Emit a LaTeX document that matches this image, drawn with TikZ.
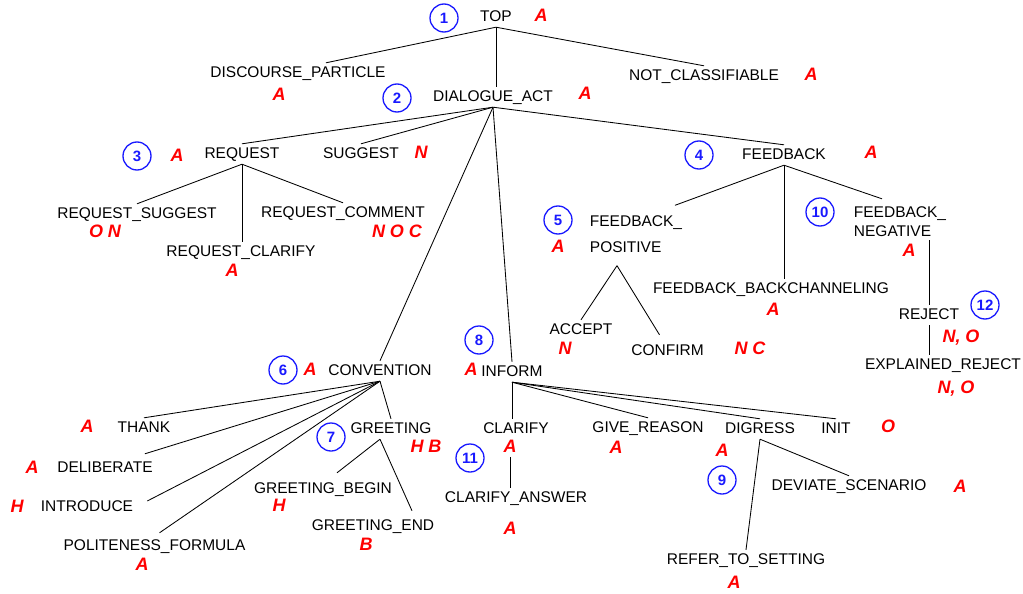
\documentclass[tikz,border=0pt]{standalone}
\usepackage{fontspec}
\setmainfont{Liberation Sans}
\usepackage{xcolor}
\usepackage{tikz}
\definecolor{tagred}{RGB}{255,0,0}
\definecolor{numblue}{RGB}{25,25,255}
\tikzset{
  cat/.style={font=\fontsize{15.5}{18}\selectfont,text=black,inner sep=3pt,
    text height=11.5pt,text depth=2.5pt},
  cattwo/.style={font=\fontsize{15.5}{18}\selectfont,text=black,inner sep=3pt,align=left},
  tag/.style={font=\fontsize{18}{21}\selectfont\bfseries\itshape,text=tagred,inner sep=2pt,
    text height=13pt,text depth=2.5pt},
  num/.style={circle,draw=numblue,line width=1.3pt,text=numblue,minimum size=28pt,
    inner sep=0pt,font=\fontsize{15}{17}\selectfont\bfseries},
  branch/.style={line width=0.85pt,black}
}

\begin{document}
\begin{tikzpicture}[x=1pt,y=-1pt]
  \useasboundingbox (0,0) rectangle (1023,594);
  % upper levels
  \node[cat] (top) at (496,17) {TOP};
  \node[tag] (topA) at (541,16) {A};
  \node[num] (n1) at (444,18) {1};
  \node[cat] (dp) at (298,73) {DISCOURSE\_PARTICLE};
  \node[tag] (dpA) at (279,95) {A};
  \node[cat] (nc) at (704,76) {NOT\_CLASSIFIABLE};
  \node[tag] (ncA) at (811,75) {A};
  \node[cat] (da) at (493,97) {DIALOGUE\_ACT};
  \node[tag] (daA) at (585,94) {A};
  \node[num] (n2) at (397,98) {2};
  \node[cat] (req) at (242,154) {REQUEST};
  \node[tag] (reqA) at (177,156) {A};
  \node[num] (n3) at (137,156) {3};
  \node[cat] (sug) at (361,154) {SUGGEST};
  \node[tag] (sugA) at (421,153) {N};
  \node[cat] (fb) at (784,155) {FEEDBACK};
  \node[tag] (fbA) at (871,153) {A};
  \node[num] (n4) at (699,155) {4};
  % request
  \node[cat] (rs) at (137,214) {REQUEST\_SUGGEST};
  \node[tag] (rsA) at (105,232) {O N};
  \node[cat] (rcl) at (241,252) {REQUEST\_CLARIFY};
  \node[tag] (rclA) at (232,271) {A};
  \node[cat] (rco) at (343,213) {REQUEST\_COMMENT};
  \node[tag] (rcoA) at (397,232) {N O C};
  % feedback
  \node[cattwo] (fbp) at (636,234) {FEEDBACK\_\\[8pt]POSITIVE};
  \node[tag] (fbpA) at (558,247) {A};
  \node[num] (n5) at (558,220) {5};
  \node[cat] (acc) at (581,330) {ACCEPT};
  \node[tag] (accA) at (565,349) {N};
  \node[cat] (cnf) at (667.5,351) {CONFIRM};
  \node[tag] (cnfA) at (750,349) {N C};
  \node[cat] (fbb) at (771,289) {FEEDBACK\_BACKCHANNELING};
  \node[tag] (fbbA) at (773,310) {A};
  \node[cattwo] (fbn) at (900,222) {FEEDBACK\_\\[1pt]NEGATIVE};
  \node[tag] (fbnA) at (909,251) {A};
  \node[num] (n10) at (820,212) {10};
  \node[cat] (rej) at (929,315) {REJECT};
  \node[tag] (rejA) at (961,337) {N, O};
  \node[num] (n12) at (985,305) {12};
  \node[cat] (er) at (943,365) {EXPLAINED\_REJECT};
  \node[tag] (erA) at (956,388) {N, O};
  % convention
  \node[cat] (conv) at (380,371) {CONVENTION};
  \node[tag] (convA) at (310,370) {A};
  \node[num] (n6) at (283,370) {6};
  \node[cat] (thk) at (144,428) {THANK};
  \node[tag] (thkA) at (87,427) {A};
  \node[cat] (del) at (105,468) {DELIBERATE};
  \node[tag] (delA) at (32,468) {A};
  \node[cat] (intro) at (87,507) {INTRODUCE};
  \node[tag] (introA) at (17,507) {H};
  \node[cat] (pol) at (154.5,546) {POLITENESS\_FORMULA};
  \node[tag] (polA) at (142,565) {A};
  \node[cat] (gr) at (391,429) {GREETING};
  \node[tag] (grA) at (426,447) {H B};
  \node[num] (n7) at (331,437) {7};
  \node[cat] (gb) at (323,489) {GREETING\_BEGIN};
  \node[tag] (gbA) at (279,506) {H};
  \node[cat] (ge) at (373,526) {GREETING\_END};
  \node[tag] (geA) at (366,545) {B};
  % inform
  \node[cat] (inf) at (512,372) {INFORM};
  \node[tag] (infA) at (471,370) {A};
  \node[num] (n8) at (479,340) {8};
  \node[cat] (clr) at (516,429) {CLARIFY};
  \node[tag] (clrA) at (510,447) {A};
  \node[num] (n11) at (470,458) {11};
  \node[cat] (cla) at (516,498) {CLARIFY\_ANSWER};
  \node[tag] (claA) at (510,529) {A};
  \node[cat] (grs) at (648,428) {GIVE\_REASON};
  \node[tag] (grsA) at (616,448) {A};
  \node[cat] (dig) at (760,429) {DIGRESS};
  \node[tag] (digA) at (722,451) {A};
  \node[num] (n9) at (722,480) {9};
  \node[cat] (init) at (836,429) {INIT};
  \node[tag] (initA) at (888,427) {O};
  \node[cat] (dev) at (849,486) {DEVIATE\_SCENARIO};
  \node[tag] (devA) at (960,487) {A};
  \node[cat] (ref) at (746,560) {REFER\_TO\_SETTING};
  \node[tag] (refA) at (734,583) {A};
  % branches
  \draw[branch] (top.south) -- ([xshift=28pt]dp.north);
  \draw[branch] (top.south) -- (nc.north);
  \draw[branch] (top.south) -- (top.south |- da.north);
  \foreach \c in {req,sug,conv,inf,fb} {\draw[branch] (da.south) -- (\c.north);}
  \draw[branch] (req.south) -- (rs.north);
  \draw[branch] (req.south) -- (req.south |- rcl.north);
  \draw[branch] (req.south) -- (rco.north);
  \draw[branch] (fb.south) -- ([xshift=39pt,yshift=7pt]fbp.north);
  \draw[branch] (fb.south) -- (fb.south |- fbb.north);
  \draw[branch] (fb.south) -- ([xshift=-18pt,yshift=5pt]fbn.north);
  \draw[branch] ([xshift=-19pt,yshift=-10pt]fbp.south) -- (acc.north);
  \draw[branch] ([xshift=-19pt,yshift=-10pt]fbp.south) -- ([xshift=-8pt,yshift=6pt]cnf.north);
  \draw[branch] (fbn.south -| rej.north) -- (rej.north);
  \draw[branch] (rej.south) -- (rej.south |- er.north);
  \draw[branch] (conv.south) -- (thk.north);
  \draw[branch] (conv.south) -- ([xshift=-11pt,yshift=4pt]del.north east);
  \draw[branch] (conv.south) -- ([xshift=11pt,yshift=6pt]intro.east);
  \draw[branch] (conv.south) -- ([xshift=5pt,yshift=3pt]pol.north);
  \draw[branch] (conv.south) -- (gr.north);
  \draw[branch] ([xshift=-11pt]gr.south) -- ([xshift=14pt,yshift=6pt]gb.north);
  \draw[branch] ([xshift=-11pt]gr.south) -- ([xshift=39pt,yshift=5pt]ge.north);
  \draw[branch] (inf.south) -- (inf.south |- clr.north);
  \foreach \c in {grs,dig,init} {\draw[branch] (inf.south) -- (\c.north);}
  \draw[branch] (clrA.south) -- (clrA.south |- cla.north);
  \draw[branch] (dig.south) -- (dev.north);
  \draw[branch] (dig.south) -- (ref.north);
\end{tikzpicture}
\end{document}
